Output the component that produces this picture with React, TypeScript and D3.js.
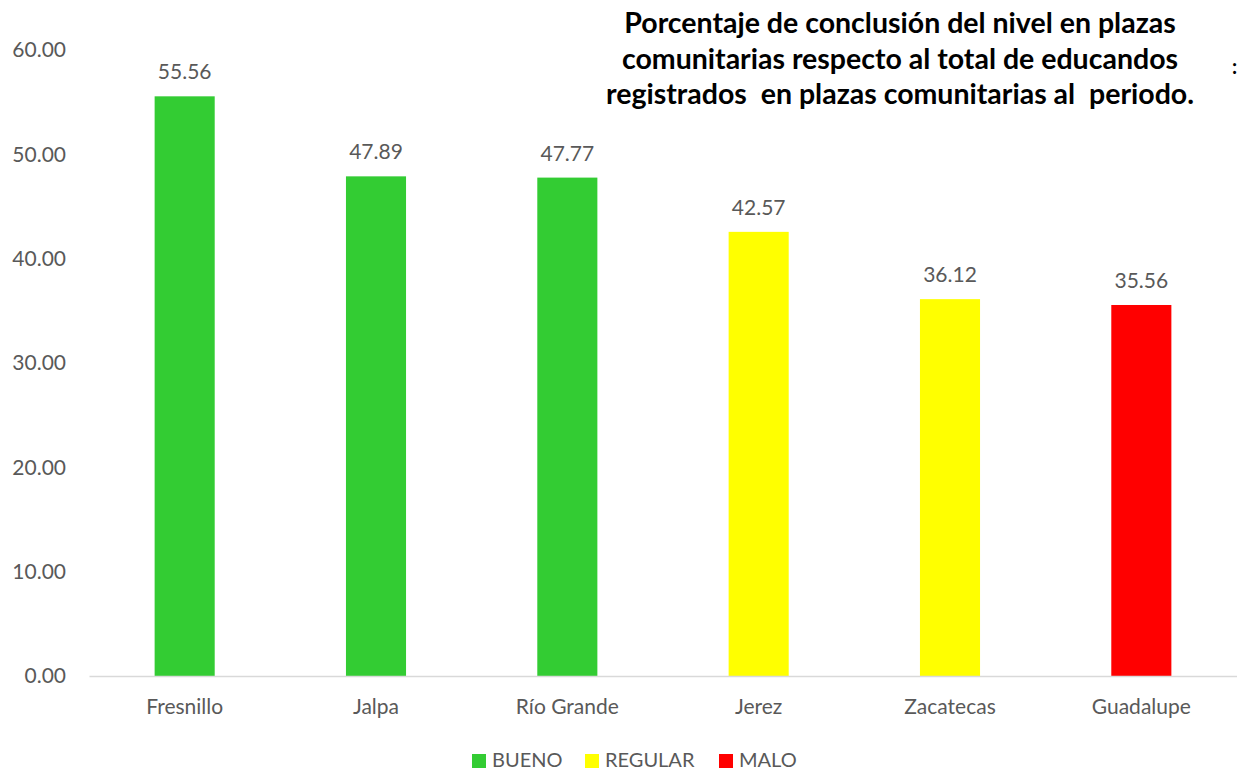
import { useEffect, useRef } from "react";
import * as d3 from "d3";

const municipios = ["Fresnillo", "Jalpa", "Río Grande", "Jerez", "Zacatecas", "Guadalupe"];
const porcentajes = [55.56, 47.89, 47.77, 42.57, 36.12, 35.56];
const niveles = ["BUENO", "BUENO", "BUENO", "REGULAR", "REGULAR", "MALO"];
const leyenda = ["BUENO", "REGULAR", "MALO"];
const ticksY = [0, 10, 20, 30, 40, 50, 60];
const tituloLineas = [
  "Porcentaje de conclusión del nivel en plazas",
  "comunitarias respecto al total de educandos",
  "registrados  en plazas comunitarias al  periodo.",
];

const WIDTH = 1237;
const HEIGHT = 771;
const MARGIN = { top: 50, right: 0, bottom: 95, left: 89 };
const FONT = "Lato, 'Open Sans', sans-serif";
const GRIS = "#595959";

const colores: Record<string, string> = {
  BUENO: "#33cc33",
  REGULAR: "#ffff00",
  MALO: "#ff0000",
};

const BarChart = () => {
  const axesRef = useRef<SVGGElement>(null);
  const boundsWidth = WIDTH - MARGIN.left - MARGIN.right;
  const boundsHeight = HEIGHT - MARGIN.top - MARGIN.bottom;

  const xScale = d3.scaleBand().domain(municipios).range([0, boundsWidth]).paddingInner(0.686).paddingOuter(0.343);
  const yScale = d3.scaleLinear().domain([0, 60]).range([boundsHeight, 0]);

  // ejes con d3
  useEffect(() => {
    const g = d3.select(axesRef.current);
    g.selectAll("*").remove();

    const yAxis = g.append("g").call(d3.axisLeft(yScale).tickValues(ticksY).tickFormat(d3.format(".2f")).tickSize(0).tickPadding(23));
    yAxis.select(".domain").remove();
    yAxis.selectAll("text").attr("font-size", 21).attr("font-family", FONT).attr("fill", GRIS);

    const xAxis = g
      .append("g")
      .attr("transform", `translate(0,${boundsHeight})`)
      .call(d3.axisBottom(xScale).tickSize(0).tickPadding(23));
    xAxis.select(".domain").attr("stroke", "#d9d9d9").attr("stroke-width", 1.5);
    xAxis.selectAll("text").attr("font-size", 21).attr("font-family", FONT).attr("fill", GRIS);
  }, []);

  return (
    <svg width={WIDTH} height={HEIGHT} style={{ display: "block", position: "absolute", left: 0, top: 0 }}>
      <rect width={WIDTH} height={HEIGHT} fill="white" />
      <g transform={`translate(${MARGIN.left},${MARGIN.top})`}>
        {municipios.map((m, i) => (
          <rect
            key={m}
            x={xScale(m)}
            y={yScale(porcentajes[i])}
            width={xScale.bandwidth()}
            height={boundsHeight - yScale(porcentajes[i])}
            fill={colores[niveles[i]]}
          />
        ))}
        {municipios.map((m, i) => (
          <text
            key={m + "-v"}
            x={(xScale(m) ?? 0) + xScale.bandwidth() / 2}
            y={yScale(porcentajes[i]) - 17}
            textAnchor="middle"
            fontSize={21}
            fontFamily={FONT}
            fill={GRIS}
          >
            {porcentajes[i].toFixed(2)}
          </text>
        ))}
        <g ref={axesRef} />
      </g>
      {tituloLineas.map((t, i) => (
        <text
          key={i}
          x={900}
          y={33 + i * 35.5}
          textAnchor="middle"
          fontSize={28.5}
          fontWeight="bold"
          fontFamily={FONT}
          fill="#000"
          style={{ whiteSpace: "pre" }}
        >
          {t}
        </text>
      ))}
      <text x={1232} y={74} fontSize={20} fontWeight="bold" fontFamily={FONT} fill="#000">
        :
      </text>
      {leyenda.map((l, i) => {
        const xs = [472, 585, 719];
        return (
          <g key={l} transform={`translate(${xs[i]},754)`}>
            <rect width={14} height={14} fill={colores[l]} />
            <text x={20} y={13} fontSize={20} fontFamily={FONT} fill={GRIS}>
              {l}
            </text>
          </g>
        );
      })}
    </svg>
  );
};

export default function App() {
  return <BarChart />;
}
